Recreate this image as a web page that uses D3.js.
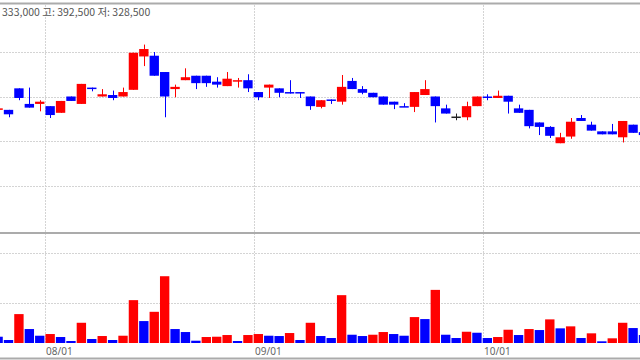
<!DOCTYPE html>
<html>
<head>
<meta charset="utf-8">
<script src="https://cdn.jsdelivr.net/npm/d3@7"></script>
<style>
    body { margin: 0; background: #fff; }
    svg { display: block; }
</style>
</head>
<body>
<div id="chart"></div>
<script>
// daily candles, left to right (first and last are cut by the frame)
var openPrice = [351000, 351000, 365500, 355000, 355000, 353500, 349000, 360000, 355000, 366000,
    360000, 361000, 360000, 364500, 387000, 387500, 376500, 365000, 371000, 374000,
    374000, 370000, 367000, 370000, 371000, 363000, 366000, 365500, 363000, 363000,
    360000, 353000, 358000, 356500, 370500, 365000, 362500, 360000, 356500, 353500,
    353000, 361000, 360000, 352000, 346500, 346000, 353500, 360000, 359000, 360500,
    352000, 351000, 342500, 339500, 328500, 333000, 345500, 341000, 336500, 336500,
    332500, 341000, 336000];
var highPrice = [352000, 351000, 365500, 366000, 357500, 353500, 357000, 360000, 368500, 366000,
    365000, 364000, 366000, 389500, 395000, 390000, 376500, 368000, 379000, 374000,
    374000, 373000, 376500, 372500, 375000, 363000, 368000, 365500, 371000, 363000,
    360000, 357500, 358000, 374500, 372500, 367000, 362500, 360000, 356500, 355500,
    363000, 371000, 360000, 354500, 348500, 356500, 360000, 361500, 364000, 360500,
    354500, 351000, 342500, 340000, 335500, 345500, 347500, 343000, 336500, 341500,
    343500, 341000, 336000];
var lowPrice = [351000, 346000, 357500, 352500, 350000, 345500, 349000, 357000, 355000, 363500,
    360000, 357500, 360000, 364500, 380500, 374000, 346000, 359500, 371000, 365000,
    366500, 366000, 367000, 366000, 363000, 357500, 359000, 359500, 362000, 359000,
    351000, 352000, 355000, 354500, 365000, 361500, 359500, 354500, 351500, 353000,
    349500, 361000, 342500, 348500, 344000, 344000, 353500, 357500, 359000, 348500,
    349000, 338500, 334000, 332000, 328500, 331500, 343500, 337000, 334500, 334500,
    329000, 335500, 334000];
var closePrice = [352000, 348000, 359000, 352500, 356500, 347500, 357000, 357000, 368500, 365000,
    361500, 359000, 363000, 389500, 392000, 374000, 360000, 366500, 373000, 369000,
    369000, 368000, 372000, 371000, 365500, 359500, 368000, 362500, 362000, 362000,
    353500, 357500, 357000, 366500, 365000, 362500, 359500, 354500, 354500, 353000,
    363000, 365000, 353500, 348500, 346500, 353500, 360000, 359000, 360500, 356500,
    349000, 340000, 339500, 333500, 332500, 343000, 343500, 337000, 334500, 334500,
    343500, 335500, 334000];
var volume = [63000, 30000, 290000, 140000, 73000, 90000, 60000, 20000, 203000, 40000,
    70000, 30000, 73000, 430000, 220000, 313000, 670000, 140000, 110000, 23000,
    60000, 63000, 80000, 20000, 80000, 90000, 73000, 70000, 100000, 30000,
    203000, 70000, 50000, 480000, 83000, 70000, 83000, 110000, 90000, 73000,
    260000, 240000, 533000, 83000, 50000, 113000, 103000, 50000, 60000, 133000,
    80000, 140000, 130000, 237000, 147000, 167000, 50000, 97000, 17000, 47000,
    203000, 150000, 80000];

// month starts (index of first trading day) and their labels
var monthIndex = [5, 25, 47];
var monthLabels = ["08/01", "09/01", "10/01"];

var priceTicks = [390000, 360000, 330000, 300000];
var volumeTicks = [400000, 900000];
var headerText = "333,000 고: 392,500 저: 328,500";

var width = 640, height = 360;
var upColor = "#ff0000", downColor = "#0000ff", gridColor = "#d4d4d4", frameColor = "#ababab";

var svg = d3.select("#chart")
    .append("svg")
    .attr("width", width)
    .attr("height", height);

// x: one band per trading day, the frame cuts the first and last ones
var x = d3.scaleBand()
    .domain(d3.range(openPrice.length))
    .range([-7.1, 648.7])
    .paddingInner(0.1)
    .paddingOuter(0.05);

var yPrice = d3.scaleLinear()
    .domain([300000, 390000])
    .range([185.5, 52]);

var yVol = d3.scaleLinear()
    .domain([0, 900000])
    .range([343, 253.3]);

// grid lines
svg.append("g")
    .selectAll("line")
    .data(priceTicks)
    .enter()
    .append("line")
    .attr("x1", 0)
    .attr("x2", width)
    .attr("y1", function (d) { return Math.round(yPrice(d)) + 0.5; })
    .attr("y2", function (d) { return Math.round(yPrice(d)) + 0.5; })
    .attr("stroke", gridColor)
    .attr("stroke-dasharray", "2,1");

svg.append("g")
    .selectAll("line")
    .data(volumeTicks)
    .enter()
    .append("line")
    .attr("x1", 0)
    .attr("x2", width)
    .attr("y1", function (d) { return Math.round(yVol(d)) + 0.5; })
    .attr("y2", function (d) { return Math.round(yVol(d)) + 0.5; })
    .attr("stroke", gridColor)
    .attr("stroke-dasharray", "2,1");

svg.append("g")
    .selectAll("line")
    .data(monthIndex)
    .enter()
    .append("line")
    .attr("x1", function (d) { return Math.round(x(d)) + 0.5; })
    .attr("x2", function (d) { return Math.round(x(d)) + 0.5; })
    .attr("y1", 5)
    .attr("y2", 344)
    .attr("stroke", gridColor)
    .attr("stroke-dasharray", "2,1");

// frame lines
[3.5, 233, 358.5].forEach(function (yy) {
    svg.append("line")
        .attr("x1", 0)
        .attr("x2", width)
        .attr("y1", yy)
        .attr("y2", yy)
        .attr("stroke", frameColor)
        .attr("stroke-width", 2);
});

// candles
function candleColor(i) {
    if (closePrice[i] > openPrice[i]) return upColor;
    if (closePrice[i] < openPrice[i]) return downColor;
    return "#222";
}

var candles = svg.append("g")
    .selectAll("g")
    .data(d3.range(openPrice.length))
    .enter()
    .append("g");

candles.append("line")
    .attr("x1", function (i) { return Math.round(x(i) + x.bandwidth() / 2) + 0.5; })
    .attr("x2", function (i) { return Math.round(x(i) + x.bandwidth() / 2) + 0.5; })
    .attr("y1", function (i) { return yPrice(highPrice[i]); })
    .attr("y2", function (i) { return yPrice(lowPrice[i]); })
    .attr("stroke", function (i) { return candleColor(i); })
    .attr("stroke-width", 1);

candles.append("rect")
    .attr("x", function (i) { return x(i); })
    .attr("width", x.bandwidth())
    .attr("y", function (i) { return yPrice(Math.max(openPrice[i], closePrice[i])); })
    .attr("height", function (i) {
        return Math.max(1.5, Math.abs(yPrice(openPrice[i]) - yPrice(closePrice[i])));
    })
    .attr("fill", function (i) { return candleColor(i); });

// volume bars, red when volume rose from the day before
svg.append("g")
    .selectAll("rect")
    .data(volume)
    .enter()
    .append("rect")
    .attr("x", function (d, i) { return x(i); })
    .attr("width", x.bandwidth())
    .attr("y", function (d) { return yVol(d); })
    .attr("height", function (d) { return yVol(0) - yVol(d); })
    .attr("fill", function (d, i) {
        return (i > 0 && d > volume[i - 1]) ? upColor : downColor;
    });

// month labels
svg.append("g")
    .selectAll("text")
    .data(monthIndex)
    .enter()
    .append("text")
    .attr("x", function (d) { return Math.round(x(d)) + 1; })
    .attr("y", 354.5)
    .style("font-family", "'Noto Sans', sans-serif")
    .style("font-size", "10px")
    .attr("fill", "#666")
    .text(function (d, i) { return monthLabels[i]; });

// header
svg.append("text")
    .attr("x", 2)
    .attr("y", 16)
    .style("font-family", "'Noto Sans CJK KR', sans-serif")
    .style("font-size", "10.5px")
    .attr("fill", "#555")
    .text(headerText);
</script>
</body>
</html>
